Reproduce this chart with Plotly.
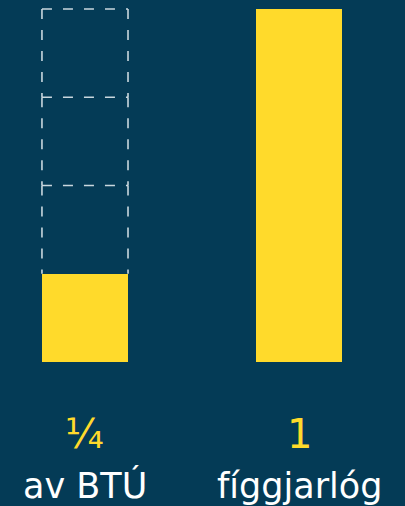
import plotly.graph_objects as go

categories = ["av BTÚ", "fíggjarlóg"]
values = [0.25, 1.0]
value_labels = ["¼", "1"]
whole = 1.0

BG = "#043b56"
YELLOW = "#ffda2b"
DASH = "#c9d7de"

x = list(range(len(categories)))
bar_w = 0.402

fig = go.Figure()
fig.add_trace(go.Bar(
    x=x, y=values, width=bar_w,
    marker=dict(color=YELLOW, line=dict(width=0)),
    hoverinfo="skip", showlegend=False,
))

# dashed outlines showing how many parts make up the whole
dash_line = dict(color=DASH, width=1.6, dash="10px,11px")
for i, v in enumerate(values):
    if v < whole:
        n = round(whole / v)
        xl, xr = i - bar_w / 2, i + bar_w / 2
        for k in range(1, n):
            lo, hi = k * v, (k + 1) * v
            # top edge of this part
            fig.add_shape(type="line", xref="x", yref="y",
                          x0=xl, x1=xr, y0=hi, y1=hi, line=dash_line, layer="below")
            # side edges of this part
            for xs in (xl, xr):
                fig.add_shape(type="line", xref="x", yref="y",
                              x0=xs, x1=xs, y0=hi, y1=lo, line=dash_line, layer="below")

for i, (lab, cat) in enumerate(zip(value_labels, categories)):
    fig.add_annotation(
        x=i, xref="x", y=0.142, yref="paper", yanchor="middle",
        text=lab, showarrow=False,
        font=dict(family="DejaVu Sans", size=40, color=YELLOW),
    )
    fig.add_annotation(
        x=i, xref="x", y=0.04, yref="paper", yanchor="middle",
        text=cat, showarrow=False,
        font=dict(family="DejaVu Sans", size=35, color="#ffffff"),
    )

fig.update_layout(
    width=405, height=506,
    margin=dict(l=0, r=0, t=0, b=0),
    paper_bgcolor=BG, plot_bgcolor=BG,
    xaxis=dict(range=[-0.397, 1.495], visible=False, fixedrange=True),
    yaxis=dict(range=[-0.408, 1.0255], visible=False, fixedrange=True),
    bargap=0,
)

fig.write_html(
    "out.html",
    config={"displayModeBar": False},
    post_script="document.body.style.margin='0';document.body.style.overflow='hidden';",
)
